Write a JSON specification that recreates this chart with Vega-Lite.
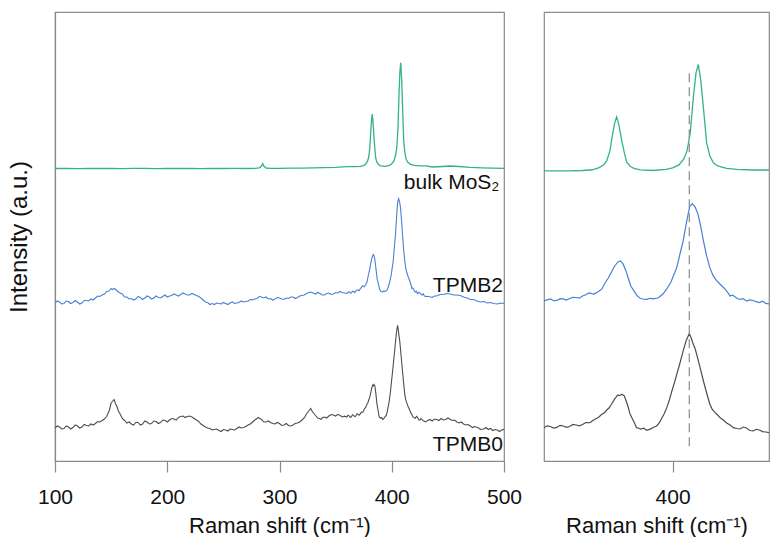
{
  "$schema": "https://vega.github.io/schema/vega-lite/v6.json",
  "padding": {"left": 6, "top": 11, "right": 4, "bottom": 0},
  "background": "white",
  "spacing": 20,
  "config": {
    "font": "Liberation Sans",
    "view": {"stroke": "#8a8a8a", "strokeWidth": 1.2},
    "axis": {"domainColor": "#8a8a8a", "tickColor": "#8a8a8a", "domainWidth": 1.2, "tickWidth": 1.2, "labelFont": "Liberation Sans", "titleFont": "Liberation Sans", "labelFontSize": 21, "titleFontSize": 22, "titleFontWeight": "normal", "labelColor": "#111", "titleColor": "#111", "grid": false, "labelFlush": false}
  },
  "datasets": {
    "bulk": [
      {"shift":100,"intensity":292.5},{"shift":110,"intensity":292.7},{"shift":120,"intensity":292.4},{"shift":130,"intensity":292.6},{"shift":140,"intensity":292.5},{"shift":150,"intensity":292.7},{"shift":160,"intensity":292.4},{"shift":170,"intensity":292.6},{"shift":180,"intensity":292.6},{"shift":190,"intensity":292.4},{"shift":200,"intensity":292.5},{"shift":210,"intensity":292.7},{"shift":220,"intensity":292.5},{"shift":230,"intensity":292.4},{"shift":240,"intensity":292.6},{"shift":250,"intensity":292.5},{"shift":260,"intensity":292.6},{"shift":270,"intensity":292.5},{"shift":278,"intensity":292.7},{"shift":282,"intensity":293.2},{"shift":284,"intensity":295},{"shift":285,"intensity":297.5},{"shift":286,"intensity":295},{"shift":288,"intensity":293},{"shift":292,"intensity":292.6},{"shift":300,"intensity":292.7},{"shift":310,"intensity":292.8},{"shift":320,"intensity":292.9},{"shift":330,"intensity":293.1},{"shift":340,"intensity":293.3},{"shift":350,"intensity":293.6},
      {"shift":360,"intensity":294.3},{"shift":364,"intensity":294.3},{"shift":368,"intensity":294.4},{"shift":372,"intensity":294.7},{"shift":375,"intensity":295.4},{"shift":377,"intensity":297.2},{"shift":378.5,"intensity":300.1},{"shift":379.5,"intensity":304},{"shift":380.5,"intensity":313.8},{"shift":381.3,"intensity":329.4},{"shift":382,"intensity":341.1},{"shift":382.6,"intensity":346.9},{"shift":383.3,"intensity":339.1},{"shift":384.2,"intensity":323.5},{"shift":385,"intensity":311.8},{"shift":385.7,"intensity":303},{"shift":386.7,"intensity":299.1},{"shift":388,"intensity":296.7},{"shift":390,"intensity":295.2},{"shift":394,"intensity":294.7},{"shift":398,"intensity":295.7},{"shift":400,"intensity":297.2},{"shift":402,"intensity":300.1},{"shift":403.5,"intensity":306},{"shift":404.5,"intensity":313.8},{"shift":405.5,"intensity":331.3},{"shift":406.5,"intensity":367.4},{"shift":407.3,"intensity":389.8},{"shift":408,"intensity":398.1},{"shift":408.8,"intensity":382},{"shift":409.6,"intensity":355.7},{"shift":410.6,"intensity":321.6},{"shift":411.6,"intensity":308.9},{"shift":412.7,"intensity":302.1},{"shift":414,"intensity":299.1},{"shift":416.8,"intensity":296.7},{"shift":420,"intensity":295.7},{"shift":425,"intensity":295.2},{"shift":430,"intensity":295.2},
      {"shift":436,"intensity":294},{"shift":445,"intensity":294.5},{"shift":452,"intensity":295},{"shift":460,"intensity":294.5},{"shift":470,"intensity":293.7},{"shift":480,"intensity":293.2},{"shift":490,"intensity":292.8},{"shift":500,"intensity":292.6}
    ],
    "tpmb2": [
      {"shift":100,"intensity":158},{"shift":102,"intensity":160},{"shift":104,"intensity":159},{"shift":106,"intensity":157},{"shift":108,"intensity":157.5},{"shift":110,"intensity":160},{"shift":112,"intensity":159.5},{"shift":114,"intensity":157.5},{"shift":116,"intensity":158.5},{"shift":118,"intensity":160.5},{"shift":120,"intensity":159},{"shift":122,"intensity":157},{"shift":124,"intensity":158},{"shift":126,"intensity":160.5},{"shift":128,"intensity":160.5},{"shift":130,"intensity":160},{"shift":132,"intensity":162},{"shift":134,"intensity":161},{"shift":136,"intensity":163},{"shift":138,"intensity":165},{"shift":140,"intensity":164.5},{"shift":142,"intensity":166},{"shift":144,"intensity":167},{"shift":146,"intensity":169.5},{"shift":148,"intensity":170},{"shift":150,"intensity":172.5},{"shift":151,"intensity":171.5},{"shift":153,"intensity":172.5},{"shift":155,"intensity":170.5},{"shift":157,"intensity":168.5},{"shift":160,"intensity":167},{"shift":162,"intensity":164},{"shift":164,"intensity":164},{"shift":166,"intensity":162},{"shift":168,"intensity":162.5},{"shift":170,"intensity":161},{"shift":172,"intensity":162},{"shift":174,"intensity":164.5},{"shift":176,"intensity":163.5},{"shift":178,"intensity":161.5},{"shift":180,"intensity":163},{"shift":182,"intensity":165},{"shift":184,"intensity":164},{"shift":186,"intensity":162},{"shift":188,"intensity":163},{"shift":190,"intensity":165},{"shift":192,"intensity":163.5},{"shift":194,"intensity":163},{"shift":196,"intensity":164.5},{"shift":198,"intensity":166},{"shift":200,"intensity":164},{"shift":202,"intensity":165},{"shift":204,"intensity":165.5},{"shift":206,"intensity":167},{"shift":208,"intensity":166},{"shift":210,"intensity":165},{"shift":212,"intensity":166.5},{"shift":214,"intensity":168},{"shift":216,"intensity":167},{"shift":218,"intensity":166},{"shift":220,"intensity":166},{"shift":222,"intensity":167.5},{"shift":224,"intensity":166.5},{"shift":226,"intensity":165.5},{"shift":228,"intensity":164.5},{"shift":230,"intensity":163},{"shift":232,"intensity":161},{"shift":234,"intensity":159},{"shift":236,"intensity":158.5},{"shift":238,"intensity":156.5},{"shift":240,"intensity":157.5},{"shift":242,"intensity":156.5},{"shift":244,"intensity":158},{"shift":246,"intensity":157.5},{"shift":248,"intensity":157},{"shift":250,"intensity":158.5},{"shift":252,"intensity":157.5},{"shift":254,"intensity":156.5},{"shift":256,"intensity":158},{"shift":258,"intensity":159},{"shift":260,"intensity":157.5},{"shift":262,"intensity":158},{"shift":264,"intensity":158.5},{"shift":266,"intensity":160},{"shift":268,"intensity":159},{"shift":270,"intensity":159.5},{"shift":272,"intensity":160},{"shift":274,"intensity":161.5},{"shift":276,"intensity":161},{"shift":278,"intensity":162},{"shift":280,"intensity":162.5},{"shift":282,"intensity":164.5},{"shift":284,"intensity":164},{"shift":286,"intensity":163},{"shift":288,"intensity":164},{"shift":290,"intensity":162},{"shift":292,"intensity":162.5},{"shift":294,"intensity":161},{"shift":296,"intensity":162},{"shift":298,"intensity":163.5},{"shift":300,"intensity":163},{"shift":302,"intensity":162},{"shift":304,"intensity":161.5},{"shift":306,"intensity":163},{"shift":308,"intensity":162.5},{"shift":310,"intensity":164},{"shift":312,"intensity":164},{"shift":314,"intensity":162.5},{"shift":316,"intensity":163.5},{"shift":318,"intensity":165},{"shift":320,"intensity":165.5},{"shift":322,"intensity":166},{"shift":324,"intensity":167.5},{"shift":326,"intensity":168.5},{"shift":328,"intensity":169},{"shift":330,"intensity":168},{"shift":332,"intensity":167},{"shift":334,"intensity":168.5},{"shift":336,"intensity":167.5},{"shift":338,"intensity":166},{"shift":340,"intensity":166},{"shift":342,"intensity":167.5},{"shift":344,"intensity":168},{"shift":346,"intensity":166.5},{"shift":348,"intensity":167},{"shift":350,"intensity":168.5},{"shift":352,"intensity":168},{"shift":354,"intensity":169.5},{"shift":356,"intensity":168.5},{"shift":358,"intensity":168},
      {"shift":360,"intensity":167.5},{"shift":361,"intensity":168.6},{"shift":362,"intensity":169.5},{"shift":363,"intensity":167.8},{"shift":364,"intensity":168},{"shift":365,"intensity":169.8},{"shift":366,"intensity":169.5},{"shift":367,"intensity":168.4},{"shift":368,"intensity":169.9},{"shift":369,"intensity":171},{"shift":370,"intensity":170.9},{"shift":371,"intensity":170.2},{"shift":372,"intensity":172.4},{"shift":373,"intensity":173.6},{"shift":374,"intensity":175.3},{"shift":375.5,"intensity":174.3},{"shift":377,"intensity":176.8},{"shift":378,"intensity":179.2},{"shift":379,"intensity":185},{"shift":380,"intensity":189.9},{"shift":381,"intensity":195.8},{"shift":382,"intensity":201.6},{"shift":383,"intensity":205.5},{"shift":383.8,"intensity":206.5},{"shift":384.6,"intensity":203.6},{"shift":385.5,"intensity":196.8},{"shift":386.2,"intensity":189.9},{"shift":387,"intensity":182.1},{"shift":388,"intensity":177.3},{"shift":389,"intensity":172.4},{"shift":390,"intensity":169.9},{"shift":391,"intensity":169.2},{"shift":392,"intensity":169},{"shift":393,"intensity":170.1},{"shift":394,"intensity":169.5},{"shift":395.5,"intensity":170.4},{"shift":397,"intensity":174.3},{"shift":398.2,"intensity":179.2},{"shift":399.5,"intensity":186},{"shift":400.5,"intensity":193.8},{"shift":401.3,"intensity":200},{"shift":402.3,"intensity":213.3},{"shift":403.3,"intensity":226},{"shift":404.3,"intensity":243.6},{"shift":405.3,"intensity":259.2},{"shift":406.1,"intensity":262.4},{"shift":407,"intensity":259.2},{"shift":407.8,"intensity":253.3},{"shift":408.8,"intensity":239.7},{"shift":409.6,"intensity":226},{"shift":410.6,"intensity":211.4},{"shift":411.6,"intensity":200},{"shift":412.5,"intensity":192.9},{"shift":413.5,"intensity":188},{"shift":414.8,"intensity":183.8},{"shift":416,"intensity":180.2},{"shift":417,"intensity":176.5},{"shift":417.9,"intensity":172.4},{"shift":418.7,"intensity":173.2},{"shift":419.5,"intensity":171.4},{"shift":420.3,"intensity":169.6},{"shift":421,"intensity":169},{"shift":422,"intensity":169.8},{"shift":423,"intensity":167.5},{"shift":424,"intensity":168.6},{"shift":425,"intensity":168},{"shift":426,"intensity":166.9},{"shift":427,"intensity":166},{"shift":428,"intensity":167.2},{"shift":429,"intensity":165.1},{"shift":430,"intensity":164.6},
      {"shift":433,"intensity":164.5},{"shift":436,"intensity":163.5},{"shift":438,"intensity":165},{"shift":440,"intensity":165},{"shift":443,"intensity":166.5},{"shift":446,"intensity":166.5},{"shift":449,"intensity":167.5},{"shift":452,"intensity":167},{"shift":455,"intensity":166},{"shift":458,"intensity":166},{"shift":461,"intensity":165.5},{"shift":464,"intensity":164},{"shift":467,"intensity":163},{"shift":470,"intensity":161.5},{"shift":473,"intensity":161.5},{"shift":476,"intensity":160},{"shift":479,"intensity":159},{"shift":482,"intensity":159.5},{"shift":485,"intensity":158},{"shift":488,"intensity":158.5},{"shift":491,"intensity":157.5},{"shift":494,"intensity":157},{"shift":497,"intensity":158},{"shift":500,"intensity":157.5}
    ],
    "tpmb0": [
      {"shift":100,"intensity":33},{"shift":102,"intensity":35},{"shift":104,"intensity":34},{"shift":106,"intensity":32},{"shift":108,"intensity":32.5},{"shift":110,"intensity":35},{"shift":112,"intensity":34},{"shift":114,"intensity":32},{"shift":116,"intensity":33.5},{"shift":118,"intensity":36},{"shift":120,"intensity":35},{"shift":122,"intensity":33},{"shift":124,"intensity":34},{"shift":126,"intensity":36.5},{"shift":128,"intensity":35.5},{"shift":130,"intensity":35},{"shift":132,"intensity":37},{"shift":134,"intensity":36},{"shift":136,"intensity":37.5},{"shift":138,"intensity":39.5},{"shift":140,"intensity":39},{"shift":142,"intensity":40.5},{"shift":144,"intensity":42},{"shift":146,"intensity":44.5},{"shift":147,"intensity":47},{"shift":148.5,"intensity":51},{"shift":150,"intensity":58},{"shift":151.5,"intensity":60},{"shift":152.6,"intensity":61.5},{"shift":154,"intensity":57},{"shift":155,"intensity":55},{"shift":156.5,"intensity":50},{"shift":158,"intensity":47},{"shift":160,"intensity":42.5},{"shift":162,"intensity":40.5},{"shift":164,"intensity":38},{"shift":166,"intensity":39},{"shift":168,"intensity":37},{"shift":170,"intensity":36},{"shift":172,"intensity":38.5},{"shift":174,"intensity":38.5},{"shift":176,"intensity":36},{"shift":178,"intensity":37},{"shift":180,"intensity":40},{"shift":182,"intensity":39},{"shift":184,"intensity":37},{"shift":186,"intensity":37.5},{"shift":188,"intensity":40},{"shift":190,"intensity":39.5},{"shift":192,"intensity":37.5},{"shift":194,"intensity":38.5},{"shift":196,"intensity":41},{"shift":198,"intensity":40.5},{"shift":200,"intensity":39},{"shift":202,"intensity":41},{"shift":204,"intensity":42.5},{"shift":206,"intensity":42},{"shift":208,"intensity":41},{"shift":210,"intensity":43.5},{"shift":212,"intensity":44.5},{"shift":214,"intensity":45},{"shift":216,"intensity":43.5},{"shift":218,"intensity":44.5},{"shift":220,"intensity":45},{"shift":222,"intensity":44},{"shift":224,"intensity":42.5},{"shift":226,"intensity":41},{"shift":228,"intensity":39.5},{"shift":230,"intensity":37},{"shift":232,"intensity":35.5},{"shift":234,"intensity":34},{"shift":236,"intensity":33},{"shift":238,"intensity":32.5},{"shift":240,"intensity":31},{"shift":242,"intensity":31.5},{"shift":244,"intensity":32},{"shift":246,"intensity":30.5},{"shift":248,"intensity":29.5},{"shift":250,"intensity":31.5},{"shift":252,"intensity":31},{"shift":254,"intensity":30},{"shift":256,"intensity":32},{"shift":258,"intensity":31.5},{"shift":260,"intensity":31},{"shift":262,"intensity":32.5},{"shift":264,"intensity":34},{"shift":266,"intensity":33},{"shift":268,"intensity":33.5},{"shift":270,"intensity":34.5},{"shift":272,"intensity":36},{"shift":274,"intensity":37},{"shift":276,"intensity":39},{"shift":278,"intensity":41},{"shift":280,"intensity":42.5},{"shift":281,"intensity":43.5},{"shift":282.5,"intensity":42.5},{"shift":284,"intensity":41.5},{"shift":286,"intensity":39},{"shift":288,"intensity":39},{"shift":290,"intensity":40},{"shift":292,"intensity":38.5},{"shift":294,"intensity":37.5},{"shift":296,"intensity":37},{"shift":298,"intensity":38.5},{"shift":300,"intensity":37.5},{"shift":302,"intensity":35.5},{"shift":304,"intensity":36},{"shift":306,"intensity":37.5},{"shift":308,"intensity":35.5},{"shift":310,"intensity":35},{"shift":312,"intensity":36},{"shift":314,"intensity":37.5},{"shift":316,"intensity":38},{"shift":318,"intensity":39},{"shift":320,"intensity":41},{"shift":322,"intensity":43},{"shift":324,"intensity":47},{"shift":326,"intensity":50},{"shift":327.8,"intensity":52.5},{"shift":329.5,"intensity":49},{"shift":331,"intensity":47},{"shift":332.5,"intensity":45},{"shift":334,"intensity":43},{"shift":335.5,"intensity":42.5},{"shift":337,"intensity":41.7},{"shift":338.5,"intensity":43.5},{"shift":340,"intensity":44},{"shift":342,"intensity":43},{"shift":344,"intensity":45},{"shift":346,"intensity":46.5},{"shift":348,"intensity":46},{"shift":350,"intensity":45},{"shift":352,"intensity":46.7},{"shift":354,"intensity":45.5},{"shift":356,"intensity":44},{"shift":358,"intensity":44.8},
      {"shift":360,"intensity":44},{"shift":361,"intensity":45.8},{"shift":362,"intensity":45.1},{"shift":363,"intensity":43.6},{"shift":364,"intensity":44.2},{"shift":365,"intensity":46.3},{"shift":366,"intensity":45.6},{"shift":367,"intensity":44.4},{"shift":368,"intensity":45.1},{"shift":369,"intensity":47.2},{"shift":370,"intensity":46.6},{"shift":371,"intensity":45.8},{"shift":372,"intensity":47.1},{"shift":373,"intensity":49},{"shift":374.3,"intensity":48.8},{"shift":375.2,"intensity":50.9},{"shift":376,"intensity":52.5},{"shift":377,"intensity":54.1},{"shift":378,"intensity":57},{"shift":378.8,"intensity":58.5},{"shift":379.5,"intensity":61.2},{"shift":380.3,"intensity":63.4},{"shift":381,"intensity":66.8},{"shift":382,"intensity":72},{"shift":383,"intensity":75.9},{"shift":383.6,"intensity":75.2},{"shift":384.2,"intensity":76.5},{"shift":385,"intensity":74.9},{"shift":386,"intensity":66.1},{"shift":386.8,"intensity":57},{"shift":388,"intensity":49.5},{"shift":388.8,"intensity":44},{"shift":389.5,"intensity":43.4},{"shift":390,"intensity":42.7},{"shift":391,"intensity":43.5},{"shift":392,"intensity":41.4},{"shift":393,"intensity":42.6},{"shift":394,"intensity":44.2},{"shift":395,"intensity":45.6},{"shift":395.8,"intensity":48.4},{"shift":396.5,"intensity":52.5},{"shift":397.4,"intensity":57.6},{"shift":398.2,"intensity":63.5},{"shift":399,"intensity":71},{"shift":399.8,"intensity":79.8},{"shift":400.6,"intensity":88},{"shift":401.3,"intensity":96},{"shift":402.3,"intensity":107},{"shift":403.3,"intensity":118.8},{"shift":404.3,"intensity":129.5},{"shift":405.2,"intensity":135.6},{"shift":405.8,"intensity":131.4},{"shift":406.3,"intensity":126.6},{"shift":407,"intensity":121.2},{"shift":407.5,"intensity":115.5},{"shift":408.5,"intensity":103.2},{"shift":409.6,"intensity":89.5},{"shift":410.6,"intensity":77.8},{"shift":411.6,"intensity":66.8},{"shift":412.3,"intensity":62.1},{"shift":413,"intensity":59.3},{"shift":414,"intensity":56.4},{"shift":414.8,"intensity":53.7},{"shift":415.8,"intensity":51.5},{"shift":416.8,"intensity":48.6},{"shift":417.8,"intensity":46.8},{"shift":418.9,"intensity":44},{"shift":420,"intensity":43.2},{"shift":421,"intensity":42.7},{"shift":422,"intensity":44.6},{"shift":423,"intensity":43.7},{"shift":424,"intensity":41.2},{"shift":425.1,"intensity":40.8},{"shift":426,"intensity":42.4},{"shift":427,"intensity":41.7},{"shift":428,"intensity":40.2},{"shift":429,"intensity":39.8},{"shift":430,"intensity":39.1},
      {"shift":432,"intensity":40.5},{"shift":434,"intensity":41.5},{"shift":436,"intensity":40},{"shift":438,"intensity":42},{"shift":440,"intensity":41.5},{"shift":442,"intensity":40.5},{"shift":444,"intensity":42.5},{"shift":446,"intensity":41},{"shift":448,"intensity":41.5},{"shift":450,"intensity":43},{"shift":452,"intensity":41.7},{"shift":454,"intensity":40.5},{"shift":456,"intensity":41},{"shift":458,"intensity":39},{"shift":460,"intensity":38},{"shift":462,"intensity":39},{"shift":464,"intensity":37},{"shift":466,"intensity":36},{"shift":468,"intensity":36.5},{"shift":470,"intensity":35},{"shift":472,"intensity":33.5},{"shift":474,"intensity":34.5},{"shift":477,"intensity":33.3},{"shift":479,"intensity":31.5},{"shift":482,"intensity":32},{"shift":484,"intensity":33.5},{"shift":486,"intensity":31.5},{"shift":488,"intensity":32.5},{"shift":490,"intensity":30.5},{"shift":492,"intensity":31.5},{"shift":494,"intensity":31},{"shift":496,"intensity":29.5},{"shift":498,"intensity":31},{"shift":500,"intensity":31.7}
    ],
    "labels": [
      {"shift":496,"intensity":272.5,"label":"bulk MoS₂"},
      {"shift":499,"intensity":169,"label":"TPMB2"},
      {"shift":499,"intensity":10,"label":"TPMB0"}
    ],
    "ref": [
      {"shift":405.2,"lo":26,"hi":391}
    ]
  },
  "hconcat": [
    {
      "width": 449,
      "height": 449,
      "encoding": {
        "x": {"field": "shift", "type": "quantitative", "scale": {"domain": [100, 500], "nice": false, "zero": false},
              "axis": {"title": "Raman shift (cm⁻¹)", "values": [100, 200, 300, 400, 500], "tickSize": 11, "labelPadding": 14, "titlePadding": 8}},
        "y": {"field": "intensity", "type": "quantitative", "scale": {"domain": [0, 449], "nice": false, "zero": false},
              "axis": {"title": "Intensity (a.u.)", "ticks": false, "labels": false, "titlePadding": 24, "titleFontSize": 24}}
      },
      "layer": [
        {"data": {"name": "bulk"}, "mark": {"type": "line", "color": "#34b28c", "strokeWidth": 1.3, "clip": true}},
        {"data": {"name": "tpmb2"}, "mark": {"type": "line", "color": "#4a7fd5", "strokeWidth": 1.1, "clip": true}},
        {"data": {"name": "tpmb0"}, "mark": {"type": "line", "color": "#4d4d4d", "strokeWidth": 1.1, "clip": true}},
        {"data": {"name": "labels"}, "mark": {"type": "text", "align": "right", "baseline": "alphabetic", "fontSize": 21, "font": "Liberation Sans", "color": "#111"},
         "encoding": {"text": {"field": "label"}}}
      ]
    },
    {
      "width": 225,
      "height": 449,
      "encoding": {
        "x": {"field": "shift", "type": "quantitative", "scale": {"domain": [360, 430], "nice": false, "zero": false},
              "axis": {"title": "Raman shift (cm⁻¹)", "values": [400], "tickSize": 11, "labelPadding": 14, "titlePadding": 8}},
        "y": {"field": "intensity", "type": "quantitative", "scale": {"domain": [11.5, 449.2], "nice": false, "zero": false}, "axis": null}
      },
      "layer": [
        {"data": {"name": "bulk"}, "mark": {"type": "line", "color": "#34b28c", "strokeWidth": 1.3, "clip": true}},
        {"data": {"name": "tpmb2"}, "mark": {"type": "line", "color": "#4a7fd5", "strokeWidth": 1.2, "clip": true}},
        {"data": {"name": "tpmb0"}, "mark": {"type": "line", "color": "#4d4d4d", "strokeWidth": 1.2, "clip": true}},
        {"data": {"name": "ref"}, "mark": {"type": "rule", "color": "#8a8a8a", "strokeWidth": 1.2, "strokeDash": [9, 5]},
         "encoding": {"y": {"field": "lo", "type": "quantitative"}, "y2": {"field": "hi"}}}
      ]
    }
  ]
}
